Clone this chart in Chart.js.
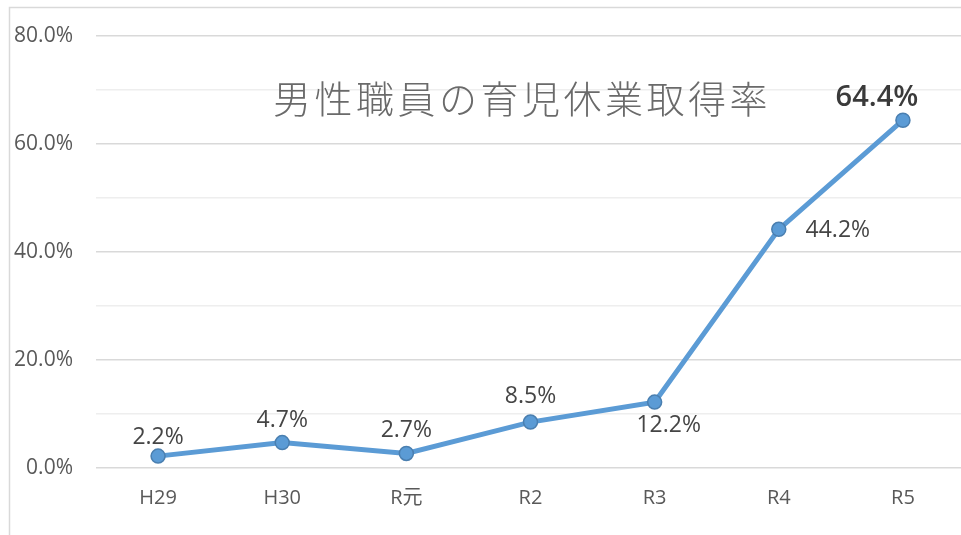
<!DOCTYPE html>
<html>
<head>
<meta charset="utf-8">
<script src="https://cdn.jsdelivr.net/npm/chart.js@4"></script>
<style>
  html, body { margin: 0; padding: 0; background: #fff; overflow: hidden; width: 961px; height: 535px; }
  canvas { display: block; }
</style>
</head>
<body>
<canvas id="c" width="965" height="535"></canvas>
<script>
const categories = ['H29', 'H30', 'R元', 'R2', 'R3', 'R4', 'R5'];
const rates = [2.2, 4.7, 2.7, 8.5, 12.2, 44.2, 64.4];
const yMin = 0, yMax = 80, yStep = 10;
const chartTitle = '男性職員の育児休業取得率';

const FONT = '"Open Sans", "Noto Sans CJK JP", sans-serif';

const labelPlugin = {
  id: 'pointLabels',
  afterDatasetsDraw(chart, args, opts) {
    const ctx = chart.ctx;
    const meta = chart.getDatasetMeta(0);
    ctx.save();
    ctx.textAlign = 'center';
    ctx.textBaseline = 'middle';
    meta.data.forEach((pt, i) => {
      const o = opts.offsets[i];
      ctx.font = (o.bold ? '600 29px ' : opts.size + 'px ') + FONT;
      ctx.fillStyle = o.bold ? '#3a3a3a' : '#454545';
      ctx.fillText(rates[i].toFixed(1) + '%', pt.x + o.dx, pt.y + o.dy);
    });
    ctx.restore();
  }
};

const decoPlugin = {
  id: 'deco',
  beforeDraw(chart) {
    const ctx = chart.ctx;
    ctx.save();
    ctx.strokeStyle = '#d9d9d9';
    ctx.lineWidth = 1.5;
    ctx.beginPath();
    ctx.moveTo(9.5, chart.height);
    ctx.lineTo(9.5, 7.5);
    ctx.lineTo(chart.width, 7.5);
    ctx.stroke();
    ctx.restore();
  },
  beforeDatasetsDraw(chart) {
    const ctx = chart.ctx;
    ctx.save();
    ctx.font = '300 38px "Noto Sans CJK JP", sans-serif';
    if ('letterSpacing' in ctx) ctx.letterSpacing = '3.5px';
    ctx.fillStyle = '#6a6a6a';
    ctx.textAlign = 'center';
    ctx.textBaseline = 'middle';
    ctx.fillText(chartTitle, 522, 99);
    ctx.restore();
  }
};

new Chart(document.getElementById('c'), {
  type: 'line',
  data: {
    labels: categories,
    datasets: [{
      data: rates,
      borderColor: '#5b9bd5',
      borderWidth: 5,
      backgroundColor: '#5b9bd5',
      pointBackgroundColor: '#5b9bd5',
      pointBorderColor: '#4a7fb0',
      pointBorderWidth: 1.5,
      pointRadius: 7,
      tension: 0,
      fill: false,
      clip: false
    }]
  },
  options: {
    responsive: false,
    animation: false,
    events: [],
    layout: { autoPadding: false, padding: { top: 36, right: 0, bottom: 0, left: 0 } },
    plugins: {
      legend: { display: false },
      tooltip: { enabled: false },
      title: { display: false },
      pointLabels: {
        size: 23,
        offsets: [
          { dx: 0, dy: -19 },
          { dx: 0, dy: -22 },
          { dx: 0, dy: -23 },
          { dx: 0, dy: -26 },
          { dx: 14, dy: 23 },
          { dx: 59, dy: 1 },
          { dx: -26, dy: -23, bold: true }
        ]
      }
    },
    scales: {
      x: {
        offset: true,
        grid: { display: false, drawTicks: false },
        border: { display: false },
        ticks: { color: '#595959', font: { family: FONT, size: 20 }, padding: 18 },
        afterFit(s) { s.height = 67; }
      },
      y: {
        min: yMin,
        max: yMax,
        border: { display: false },
        grid: {
          drawTicks: false,
          color: c => (c.tick && c.tick.value % 20 === 0) ? '#d9d9d9' : '#eeeeee',
          lineWidth: 1.5
        },
        ticks: {
          stepSize: yStep,
          padding: 23,
          color: '#595959',
          font: { family: FONT, size: 21 },
          callback: v => (v % 20 === 0) ? v.toFixed(1) + '%' : ''
        },
        afterFit(s) { s.width = 96; }
      }
    }
  },
  plugins: [decoPlugin, labelPlugin]
});
</script>
</body>
</html>
